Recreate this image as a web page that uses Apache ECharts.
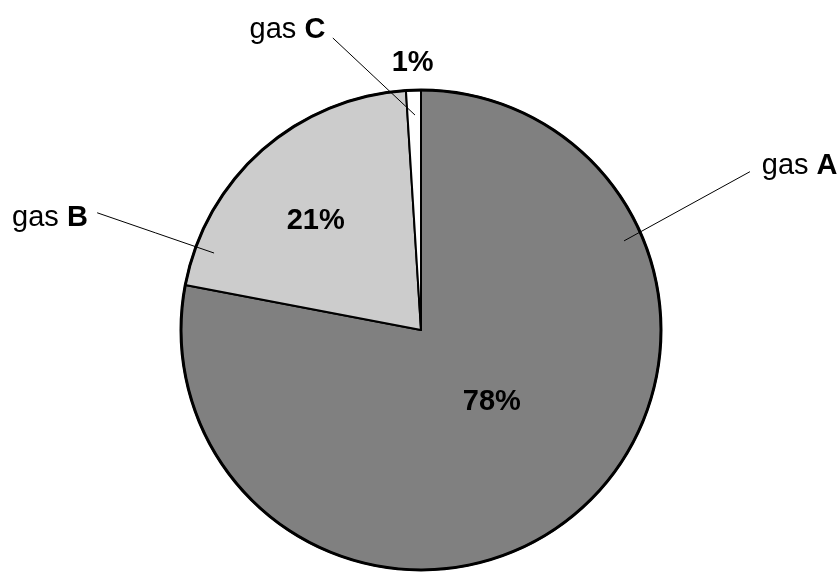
<!DOCTYPE html>
<html><head><meta charset="utf-8">
<script src="https://cdn.jsdelivr.net/npm/echarts@6/dist/echarts.min.js"></script>
<style>html,body{margin:0;padding:0;background:#fff}#c{width:839px;height:572px}</style>
</head><body><div id="c"></div><script>
const categories = ['gas A', 'gas B', 'gas C'];
const shares = [78, 21, 1];
const sliceColors = ['#808080', '#cccccc', '#ffffff'];

const CX = 421, CY = 330, R = 240;
const FONT = 'Arial, "Liberation Sans", sans-serif';
const FS = 29;
// placement helpers: [angle in degrees clockwise from 12 o'clock, radius as fraction of R]
const pctPos = [[135.4, 0.42], [316.1, 0.633], [358.2, 1.1125]];
const namePos = [[66.6, 1.719], [286.8, 1.615], [336.0, 1.368]];
const lineFrom = [[66.3, 0.924], [290.4, 0.920], [358.4, 0.896]];
const lineTo = [[64.3, 1.521], [289.9, 1.435], [343.2, 1.271]];
function pt(p) { const a = p[0] * Math.PI / 180; return [CX + R * p[1] * Math.sin(a), CY - R * p[1] * Math.cos(a)]; }

const chart = echarts.init(document.getElementById('c'));
const pieData = categories.map((n, i) => ({ name: n, value: shares[i], itemStyle: { color: sliceColors[i] } }));
chart.setOption({
  animation: false,
  backgroundColor: '#fff',
  series: [
    {
      type: 'pie', z: 2, center: [CX, CY], radius: R, startAngle: 90, clockwise: true, silent: true,
      data: pieData,
      itemStyle: { borderColor: '#000', borderWidth: 2 },
      label: { show: true, position: 'inside', formatter: '{d}%', fontSize: FS, fontWeight: 'bold', color: '#000', fontFamily: FONT },
      labelLine: { show: false },
      emphasis: { disabled: true },
      labelLayout: function (p) { const q = pt(pctPos[p.dataIndex]); return { x: q[0], y: q[1], align: 'center', verticalAlign: 'middle' }; }
    },
    {
      type: 'pie', z: 5, center: [CX, CY], radius: [R - 1.5, R + 1.5], startAngle: 90, clockwise: true, silent: true,
      data: categories.map((n, i) => ({ name: n, value: shares[i] })),
      itemStyle: { color: '#000', borderWidth: 0 },
      label: {
        show: true, position: 'outside',
        formatter: function (p) { return '{n|gas }{b|' + p.name.split(' ')[1] + '}'; },
        rich: {
          n: { fontSize: FS, fontFamily: FONT, color: '#000' },
          b: { fontSize: FS, fontFamily: FONT, fontWeight: 'bold', color: '#000' }
        }
      },
      labelLine: { show: true, length: 10, length2: 10, lineStyle: { color: '#000', width: 1 } },
      emphasis: { disabled: true },
      labelLayout: function (p) {
        const i = p.dataIndex;
        const q = pt(namePos[i]), a = pt(lineFrom[i]), b = pt(lineTo[i]);
        return { x: q[0], y: q[1], align: 'center', verticalAlign: 'middle',
          labelLinePoints: [a, [(a[0] + b[0]) / 2, (a[1] + b[1]) / 2], b] };
      }
    }
  ]
});
</script></body></html>
